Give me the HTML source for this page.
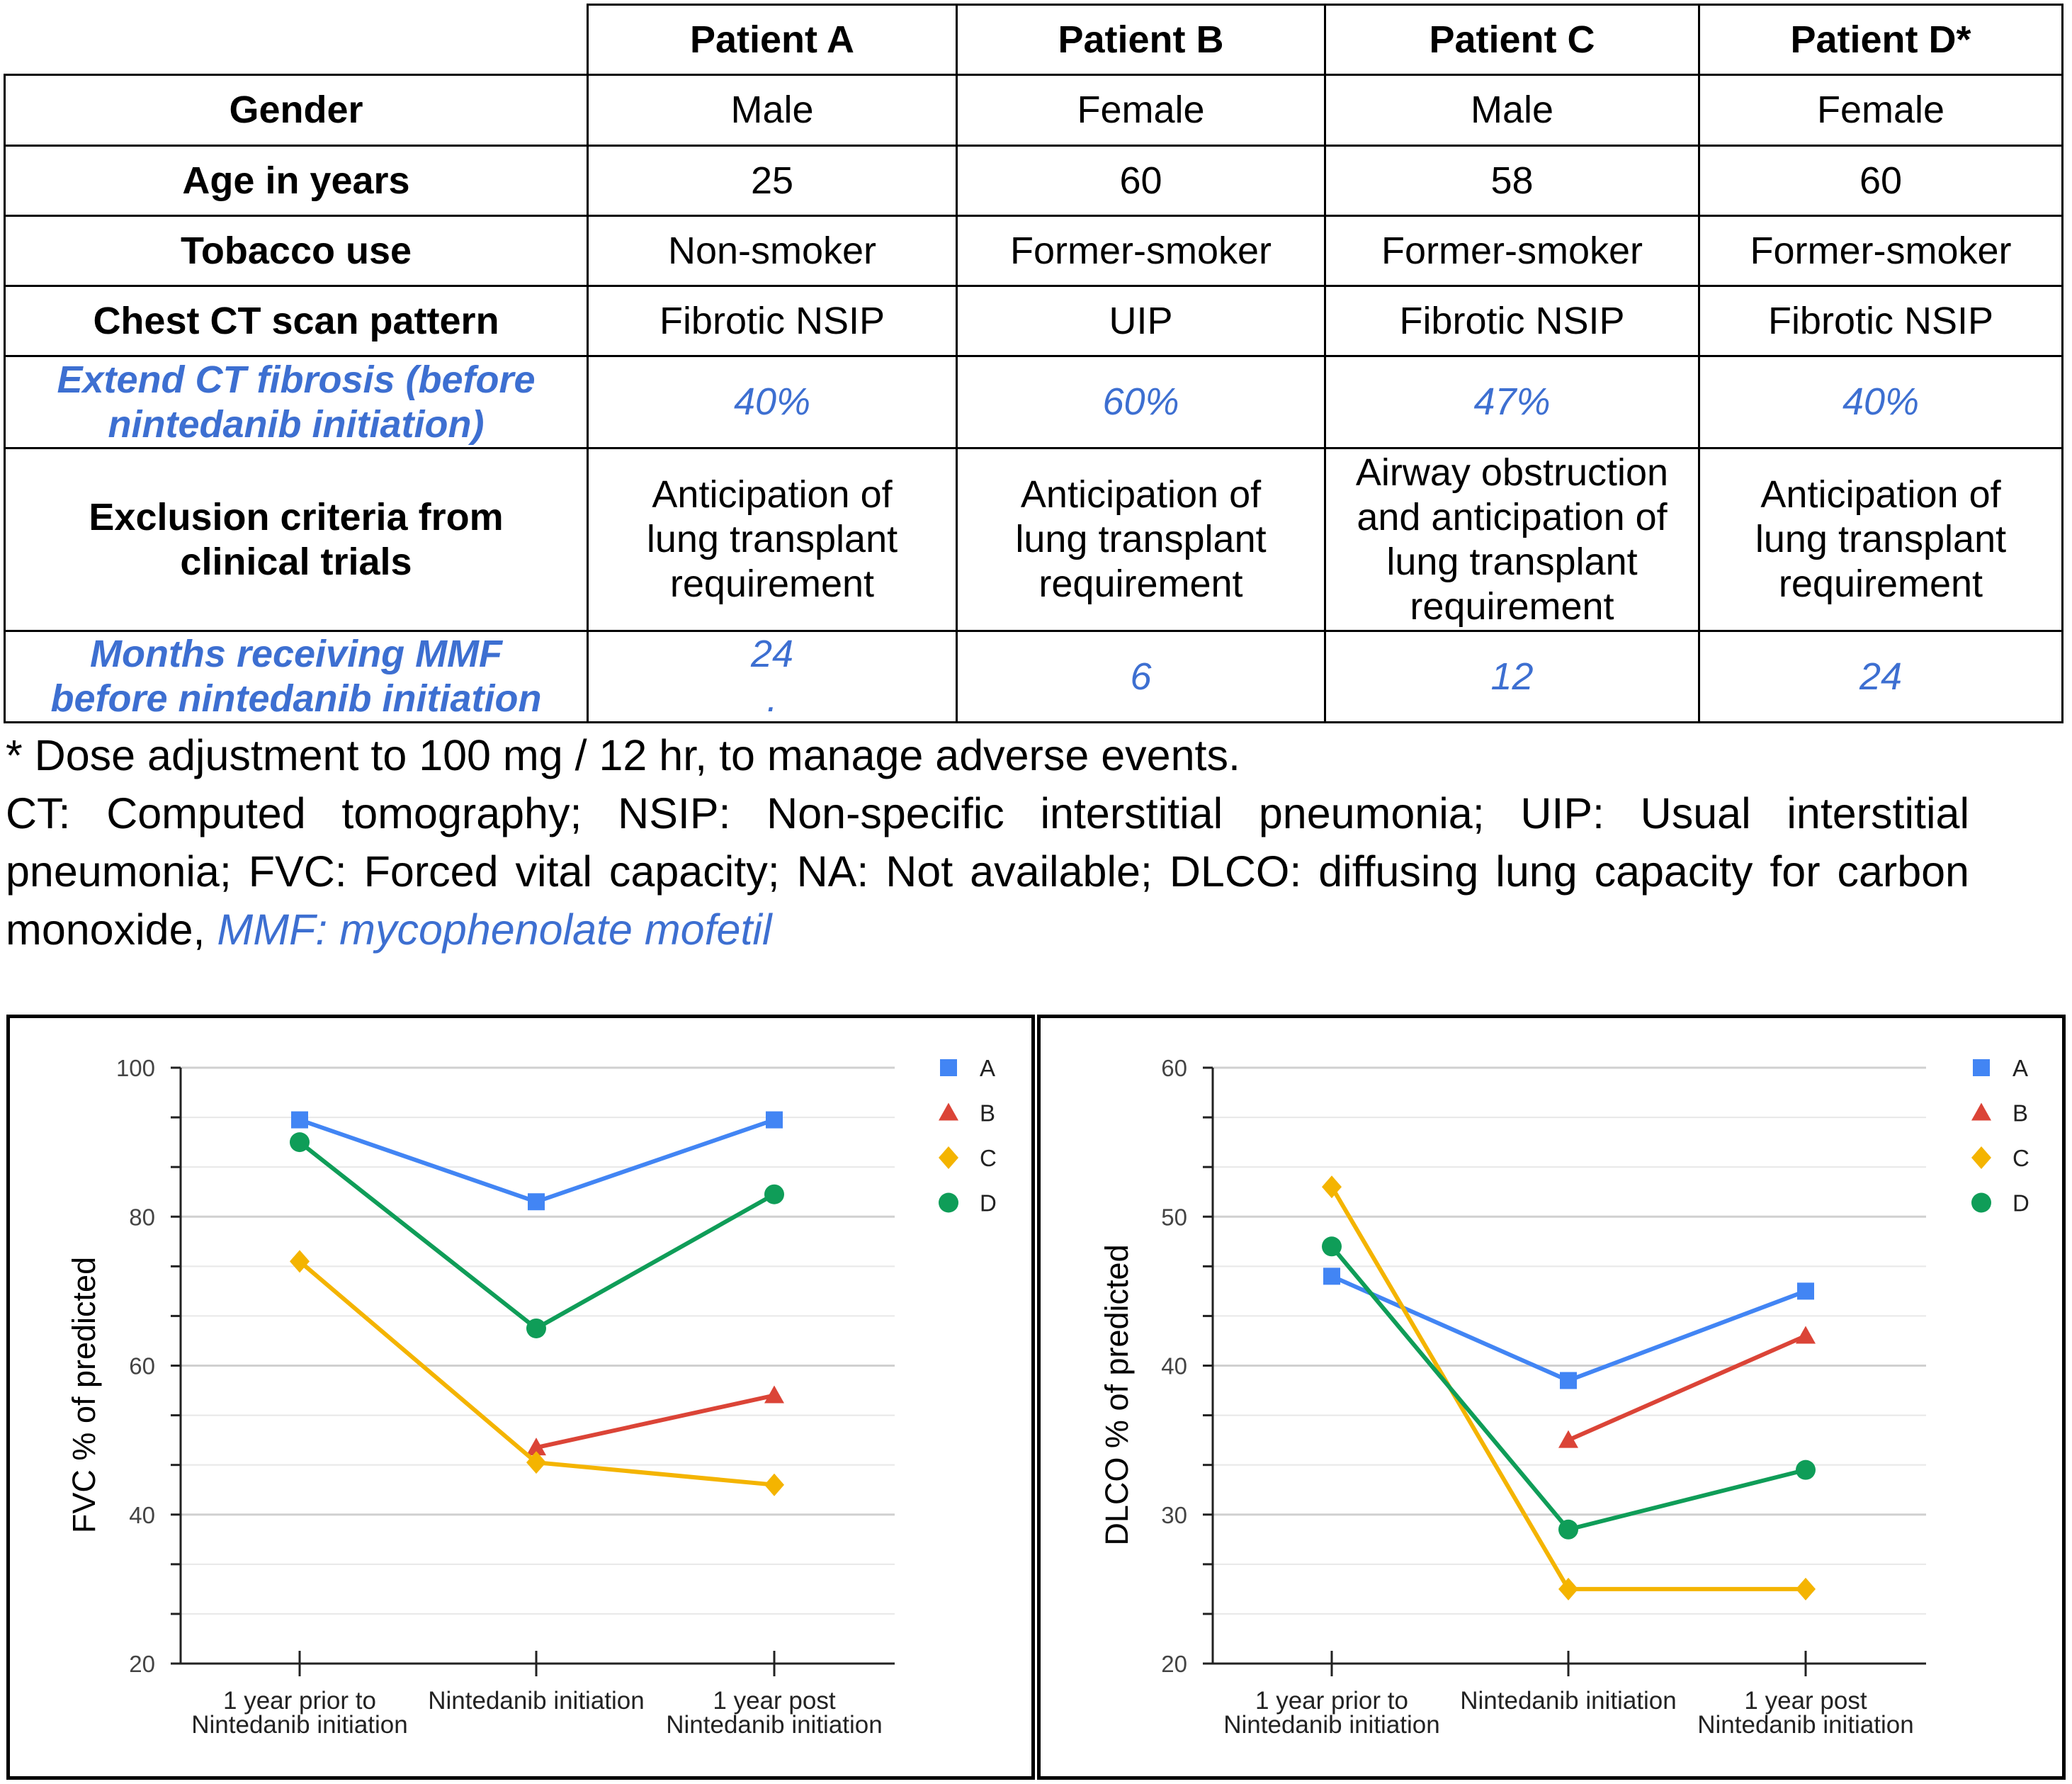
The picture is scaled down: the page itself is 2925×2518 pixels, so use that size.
<!DOCTYPE html>
<html><head><meta charset="utf-8">
<style>
html,body{margin:0;padding:0;background:#fff;}
body{width:2925px;height:2518px;position:relative;overflow:hidden;font-family:"Liberation Sans",Arial,sans-serif;}
table{position:absolute;left:5px;top:5px;border-collapse:collapse;table-layout:fixed;}
td{border:3px solid #000;text-align:center;vertical-align:middle;font-size:54px;line-height:63px;padding:0;color:#000;white-space:nowrap;}
td.h{font-weight:bold;}
td.blue{color:#3d6fd1;font-style:italic;}
td.bb{color:#3d6fd1;font-style:italic;font-weight:bold;}
td.empty{border-top:none;border-left:none;}
.note{position:absolute;left:8px;width:2772px;font-size:61px;line-height:82px;text-align:justify;text-align-last:left;}
.panel{position:absolute;border:5px solid #000;box-sizing:border-box;background:#fff;}
svg text{font-family:"Liberation Sans",Arial,sans-serif;}
</style></head>
<body>
<table>
<colgroup><col style="width:823px"><col style="width:521px"><col style="width:520px"><col style="width:528px"><col style="width:513px"></colgroup>
<tr style="height:99px"><td class="empty"></td><td class="h">Patient A</td><td class="h">Patient B</td><td class="h">Patient C</td><td class="h">Patient D*</td></tr>
<tr style="height:100px"><td class="h">Gender</td><td>Male</td><td>Female</td><td>Male</td><td>Female</td></tr>
<tr style="height:99px"><td class="h">Age in years</td><td>25</td><td>60</td><td>58</td><td>60</td></tr>
<tr style="height:99px"><td class="h">Tobacco use</td><td>Non-smoker</td><td>Former-smoker</td><td>Former-smoker</td><td>Former-smoker</td></tr>
<tr style="height:99px"><td class="h">Chest CT scan pattern</td><td>Fibrotic NSIP</td><td>UIP</td><td>Fibrotic NSIP</td><td>Fibrotic NSIP</td></tr>
<tr style="height:130px"><td class="bb">Extend CT fibrosis (before<br>nintedanib initiation)</td><td class="blue">40%</td><td class="blue">60%</td><td class="blue">47%</td><td class="blue">40%</td></tr>
<tr style="height:258px"><td class="h">Exclusion criteria from<br>clinical trials</td><td>Anticipation of<br>lung transplant<br>requirement</td><td>Anticipation of<br>lung transplant<br>requirement</td><td>Airway obstruction<br>and anticipation of<br>lung transplant<br>requirement</td><td>Anticipation of<br>lung transplant<br>requirement</td></tr>
<tr style="height:128px"><td class="bb">Months receiving MMF<br>before nintedanib initiation</td><td class="blue">24<br>.</td><td class="blue">6</td><td class="blue">12</td><td class="blue">24</td></tr>
</table>
<div class="note" style="top:1025px">* Dose adjustment to 100 mg / 12 hr, to manage adverse events.</div>
<div class="note" style="top:1107px">CT: Computed tomography; NSIP: Non-specific interstitial pneumonia; UIP: Usual interstitial pneumonia; FVC: Forced vital capacity; NA: Not available; DLCO: diffusing lung capacity for carbon monoxide, <span style="color:#3d6fd1;font-style:italic">MMF: mycophenolate mofetil</span></div>

<div class="panel" style="left:9px;top:1432px;width:1452px;height:1080px"></div>
<div class="panel" style="left:1464px;top:1432px;width:1452px;height:1080px"></div>
<svg id="charts" width="2925" height="2518" style="position:absolute;left:0;top:0"></svg>

<script>
const categoryLabels = [["1 year prior to","Nintedanib initiation"],["Nintedanib initiation"],["1 year post","Nintedanib initiation"]];
const seriesNames = ["A","B","C","D"];
const seriesColors = ["#4285F4","#DB4437","#F4B400","#0F9D58"];
const fvcA = [93,82,93];
const fvcB = [null,49,56];
const fvcC = [74,47,44];
const fvcD = [90,65,83];
const fvcTicks = [20,40,60,80,100];
const dlcoA = [46,39,45];
const dlcoB = [null,35,42];
const dlcoC = [52,25,25];
const dlcoD = [48,29,33];
const dlcoTicks = [20,30,40,50,60];

const NS="http://www.w3.org/2000/svg";
const svg=document.getElementById('charts');
function mk(tag,attrs,parent){const e=document.createElementNS(NS,tag);for(const k in attrs)e.setAttribute(k,attrs[k]);(parent||svg).appendChild(e);return e;}

function marker(g,type,x,y,color){
  let e;
  if(type==="A"){e=mk('rect',{x:x-12,y:y-12,width:24,height:24,fill:color},g);}
  else if(type==="B"){e=mk('polygon',{points:`${x},${y-14} ${x+14},${y+11} ${x-14},${y+11}`,fill:color},g);}
  else if(type==="C"){e=mk('polygon',{points:`${x},${y-16} ${x+14},${y} ${x},${y+16} ${x-14},${y}`,fill:color},g);}
  else {e=mk('circle',{cx:x,cy:y,r:14,fill:color},g);}
  return e;
}

function drawChart(cfg){
  const g=mk('g',{});
  
  
  const min=cfg.ticks[0], max=cfg.ticks[cfg.ticks.length-1];
  const yS=v=>cfg.yBottom-(v-min)/(max-min)*(cfg.yBottom-cfg.yTop);
  const xS=i=>cfg.cx[i];
  const step=(cfg.ticks[1]-cfg.ticks[0])/3;
  for(let k=0;k<=(cfg.ticks.length-1)*3;k++){
    const v=min+k*step, y=yS(v);
    const major=k%3===0;
    if(k>0){const gl=mk('line',{x1:cfg.axisX,x2:cfg.xEnd,y1:y,y2:y,stroke:major?'#d0d0d0':'#e8e8e8','stroke-width':major?3:2},g);
      
      }
    mk('line',{x1:cfg.axisX-14,x2:cfg.axisX,y1:y,y2:y,stroke:'#222','stroke-width':3},g);
  }
  cfg.ticks.forEach(t=>{
    const tl=mk('text',{x:cfg.axisX-36,y:yS(t)+12,'text-anchor':'end','font-size':33,fill:'#444'},g);
    tl.textContent=t;
    
    
  });
  mk('line',{x1:cfg.axisX,x2:cfg.axisX,y1:cfg.yTop,y2:cfg.yBottom,stroke:'#222','stroke-width':3},g);
  mk('line',{x1:cfg.axisX-14,x2:cfg.xEnd,y1:cfg.yBottom,y2:cfg.yBottom,stroke:'#222','stroke-width':3},g);
  categoryLabels.forEach((lab,i)=>{
    mk('line',{x1:xS(i),x2:xS(i),y1:cfg.yBottom-18,y2:cfg.yBottom+18,stroke:'#222','stroke-width':3},g);
    lab.forEach((ln,j)=>{
      const t=mk('text',{x:xS(i),y:cfg.yBottom+64+j*34,'text-anchor':'middle','font-size':35,fill:'#222'},g);
      t.textContent=ln;
      
      
    });
  });
  const yt=mk('text',{x:0,y:0,transform:`translate(${cfg.titleX},1969) rotate(-90)`,'text-anchor':'middle','font-size':45,fill:'#000'},g);
  yt.textContent=cfg.title;
  
  
  cfg.series.forEach((vals,si)=>{
    const col=seriesColors[si];
    const pts=[];
    vals.forEach((v,i)=>{if(v!==null)pts.push([xS(i),yS(v)]);});
    const pl=mk('polyline',{points:pts.map(p=>p.join(',')).join(' '),fill:'none',stroke:col,'stroke-width':6},g);
    
    
    pts.forEach(p=>{
      const m=marker(g,seriesNames[si],p[0],p[1],col);
      
      
    });
    const ly=cfg.yTop+si*63.5;
    const lm=marker(g,seriesNames[si],cfg.legX,ly,col);
    
    
    const lt=mk('text',{x:cfg.legX+44,y:ly+12,'font-size':33,fill:'#222'},g);
    lt.textContent=seriesNames[si];
    
    
  });
}
drawChart({name:'fvc-chart',ticks:fvcTicks,series:[fvcA,fvcB,fvcC,fvcD],axisX:255,xEnd:1263,yTop:1507,yBottom:2348,cx:[423,757,1093],legX:1339,titleX:134,title:'FVC % of predicted'});
drawChart({name:'dlco-chart',ticks:dlcoTicks,series:[dlcoA,dlcoB,dlcoC,dlcoD],axisX:1712,xEnd:2719,yTop:1507,yBottom:2348,cx:[1880,2214,2549],legX:2797,titleX:1592,title:'DLCO % of predicted'});
</script>
</body></html>
